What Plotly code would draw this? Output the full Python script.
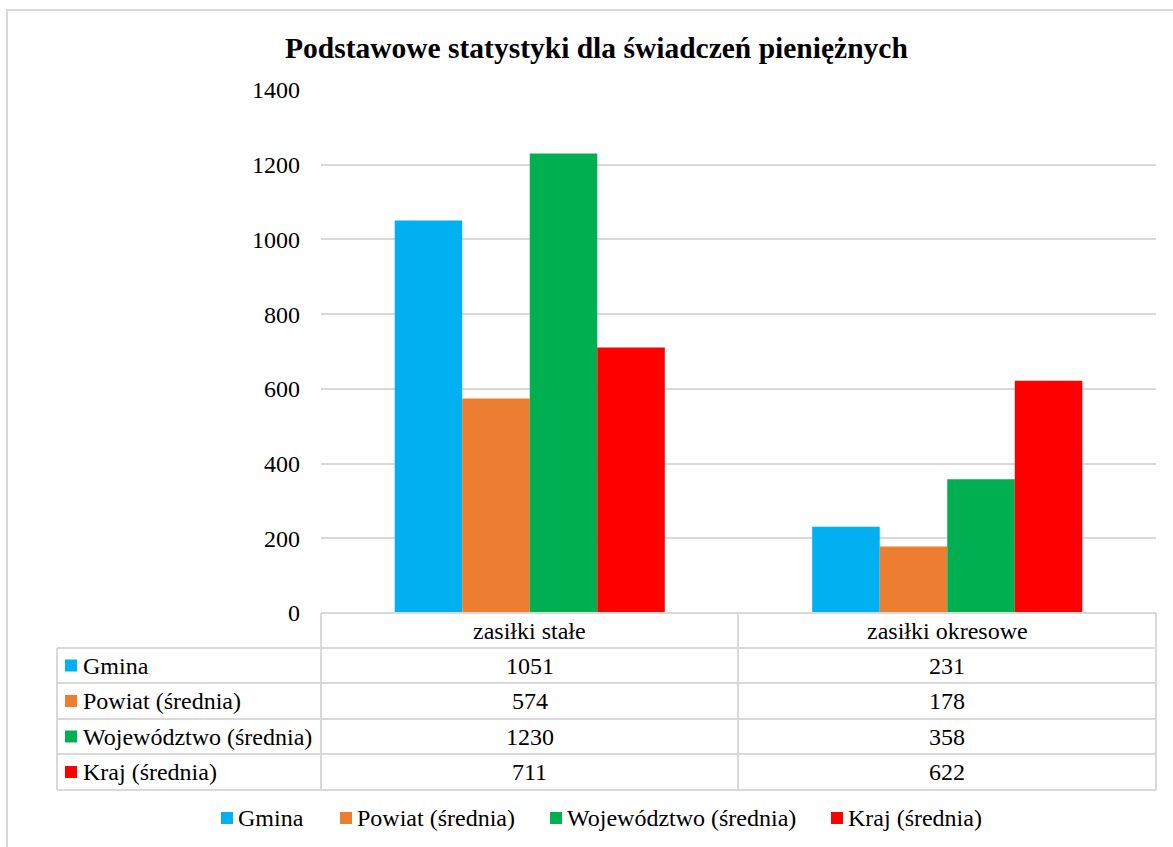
import plotly.graph_objects as go

W, H = 1173, 847

categories = ["zasiłki stałe", "zasiłki okresowe"]
series_names = ["Gmina", "Powiat (średnia)", "Województwo (średnia)", "Kraj (średnia)"]
gmina = [1051, 231]
powiat = [574, 178]
wojewodztwo = [1230, 358]
kraj = [711, 622]
series_values = [gmina, powiat, wojewodztwo, kraj]
colors = ["#00b0f0", "#ed7d31", "#00b050", "#ff0000"]
y_ticks = [0, 200, 400, 600, 800, 1000, 1200, 1400]
title_text = "Podstawowe statystyki dla świadczeń pieniężnych"

FONT = "Liberation Serif"
GRID = "#d9d9d9"
FS = 24


def px(x):
    return x / W


def py(y):
    return 1 - y / H


fig = go.Figure()
for name, vals, col in zip(series_names, series_values, colors):
    fig.add_trace(go.Bar(x=categories, y=vals, name=name, marker_color=col,
                         marker_line_width=0, showlegend=False))

plot_l, plot_r = 321, 1156
plot_t, plot_b = 90, 613

fig.update_layout(
    width=W, height=H,
    margin=dict(l=0, r=0, t=0, b=0, pad=0, autoexpand=False),
    paper_bgcolor="white", plot_bgcolor="white",
    barmode="group", bargap=0.353, bargroupgap=0,
    showlegend=False,
    font=dict(family=FONT, size=FS, color="black"),
    xaxis=dict(domain=[px(plot_l), px(plot_r)], showticklabels=False,
               showgrid=False, zeroline=False, showline=False, ticks="",
               automargin=False),
    yaxis=dict(domain=[py(plot_b), py(plot_t)], range=[0, 1400],
               tickvals=y_ticks, showgrid=True, gridcolor=GRID, gridwidth=2,
               zeroline=False, showline=False, ticks="",
               ticklabelstandoff=20, automargin=False,
               tickfont=dict(family=FONT, size=FS, color="black")),
)

shapes = []
annotations = []

# outer border
shapes.append(dict(type="rect", xref="paper", yref="paper",
                   x0=px(7), x1=px(1180), y0=py(855), y1=py(10),
                   line=dict(color=GRID, width=2), fillcolor="rgba(0,0,0,0)"))

# title
annotations.append(dict(text="<b>" + title_text + "</b>", xref="paper", yref="paper",
                        x=px(596), y=py(48), showarrow=False, xanchor="center",
                        yanchor="middle", font=dict(family=FONT, size=29.5, color="black")))

# data table
tbl_left = 57
col_mid = 738
row_lines = [648, 683, 719, 754, 790]
header_top = 613


def hline(x0, x1, y):
    shapes.append(dict(type="line", xref="paper", yref="paper",
                       x0=px(x0), x1=px(x1), y0=py(y), y1=py(y),
                       line=dict(color=GRID, width=2)))


def vline(x, y0, y1):
    shapes.append(dict(type="line", xref="paper", yref="paper",
                       x0=px(x), x1=px(x), y0=py(y0), y1=py(y1),
                       line=dict(color=GRID, width=2)))


hline(plot_l, plot_r, header_top)
for yy in row_lines:
    hline(tbl_left, plot_r, yy)
for xx in [plot_l, col_mid, plot_r]:
    vline(xx, header_top, row_lines[-1])
vline(tbl_left, row_lines[0], row_lines[-1])

# header labels centred on category positions
for cat in categories:
    annotations.append(dict(text=cat, xref="x", yref="paper", x=cat,
                            y=py((header_top + row_lines[0]) / 2), showarrow=False,
                            xanchor="center", yanchor="middle",
                            font=dict(family=FONT, size=FS, color="black")))

for i, (name, vals, col) in enumerate(zip(series_names, series_values, colors)):
    yc = (row_lines[i] + row_lines[i + 1]) / 2
    shapes.append(dict(type="rect", xref="paper", yref="paper",
                       x0=px(65), x1=px(77), y0=py(yc + 6), y1=py(yc - 6),
                       fillcolor=col, line=dict(width=0)))
    annotations.append(dict(text=name, xref="paper", yref="paper", x=px(81),
                            y=py(yc), showarrow=False, xanchor="left", yanchor="middle",
                            font=dict(family=FONT, size=FS, color="black")))
    for cat, v in zip(categories, vals):
        annotations.append(dict(text=str(v), xref="x", yref="paper", x=cat,
                                y=py(yc), showarrow=False, xanchor="center",
                                yanchor="middle",
                                font=dict(family=FONT, size=FS, color="black")))

# legend
legend_marker_x = [221, 340, 550, 831]
legend_y = 818
for name, col, mx in zip(series_names, colors, legend_marker_x):
    shapes.append(dict(type="rect", xref="paper", yref="paper",
                       x0=px(mx), x1=px(mx + 12), y0=py(legend_y + 6), y1=py(legend_y - 6),
                       fillcolor=col, line=dict(width=0)))
    annotations.append(dict(text=name, xref="paper", yref="paper", x=px(mx + 15),
                            y=py(legend_y), showarrow=False, xanchor="left",
                            yanchor="middle",
                            font=dict(family=FONT, size=FS, color="black")))

fig.update_layout(shapes=shapes, annotations=annotations)
fig.write_html("out.html", config={"displayModeBar": False},
               post_script="document.body.style.margin='0px';")
